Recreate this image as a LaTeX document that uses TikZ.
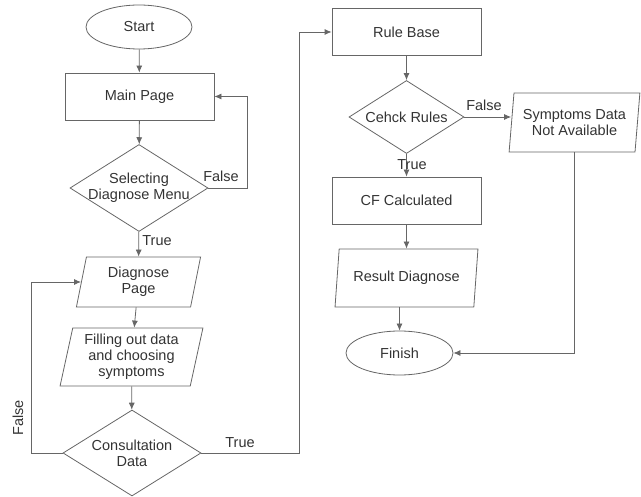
\documentclass[tikz,border=0pt]{standalone}
\usepackage{fontspec}
\setmainfont{Liberation Sans}
\usetikzlibrary{shapes.geometric,arrows.meta,calc}
\definecolor{ln}{HTML}{666666}
\definecolor{tx}{HTML}{333333}
\begin{document}
\begin{tikzpicture}[x=1pt,y=-1pt,
  every node/.style={text=tx,font=\fontsize{14.5}{16}\selectfont,align=center,inner sep=0pt},
  base/.style={draw=ln,line width=0.8pt},
  term/.style={base,ellipse,minimum width=#1,minimum height=44pt},
  box/.style={base,rectangle,minimum width=149pt,minimum height=47pt},
  dec/.style={base,diamond,minimum width=#1},
  io/.style={base,trapezium,trapezium stretches=true},
  arr/.style={draw=ln,line width=0.8pt,-{Latex[length=7pt,width=6pt]}},
  lbl/.style={text=tx}
]
\useasboundingbox (0,0) rectangle (641,497);
\node[term=106pt] (start) at (139,27) {Start};
\node[box] (main) at (139.5,96.5) {Main Page};
\node[dec=138pt,minimum height=87pt] (sel) at (139,188) {};
\node (selt) at (sel) {Selecting\\Diagnose Menu};
\node[io,trapezium left angle=78.7,trapezium right angle=101.3,minimum width=125pt,minimum height=50pt] (diag) at (138.5,282) {Diagnose\\Page};
\node[io,trapezium left angle=77.4,trapezium right angle=102.6,minimum width=143pt,minimum height=58pt] (fill) at (131.5,357) {Filling out data\\and choosing\\symptoms};
\node[dec=138pt,minimum height=86pt] (cons) at (132,453) {};
\node (const) at (cons) {Consultation\\Data};
\node[box] (rule) at (406.5,32) {Rule Base};
\node[dec=115pt,minimum height=73pt] (check) at (406.5,117) {};
\node (checkt) at (check) {Cehck Rules};
\node[io,trapezium left angle=81,trapezium right angle=99,minimum width=131pt,minimum height=59pt] (symp) at (574.5,122.5) {Symptoms Data\\Not Available};
\node[box] (cf) at (406.5,200.5) {CF Calculated};
\node[io,trapezium left angle=76.4,trapezium right angle=103.6,minimum width=143pt,minimum height=58pt] (res) at (406.5,278) {Result Diagnose};
\node[term=107pt] (fin) at (399.5,353) {Finish};

\coordinate (c1) at (247,188);
\coordinate (c2) at (31,453);
\coordinate (c3) at (299,453);

\draw[arr] (start) -- (main);
\draw[arr] (main) -- (sel);
\draw[arr] (sel.east) -- (c1) |- (main.east);
\draw[arr] (sel) -- (diag);
\draw[arr] (diag) -- (fill);
\draw[arr] (fill) -- (cons);
\draw[arr] (cons.west) -- (c2) |- (diag.west);
\draw[arr] (cons.east) -- (c3) |- (rule.west);
\draw[arr] (rule) -- (check);
\draw[arr] (check.east) -- (check.east -| symp.west);
\draw[arr] (check) -- (cf);
\draw[arr] (cf) -- (res);
\draw[arr] (fin.north |- res.south) -- (fin.north);
\draw[arr] (symp.south) |- (fin.east);

\node[lbl] (l1) at (221,176) {False};
\node[lbl] (l2) at (157,241) {True};
\node[lbl,rotate=90] (l3) at (18,418) {False};
\node[lbl] (l4) at (240,443) {True};
\node[lbl] (l5) at (484,105) {False};
\node[lbl] (l6) at (412,165) {True};
\end{tikzpicture}
\end{document}
